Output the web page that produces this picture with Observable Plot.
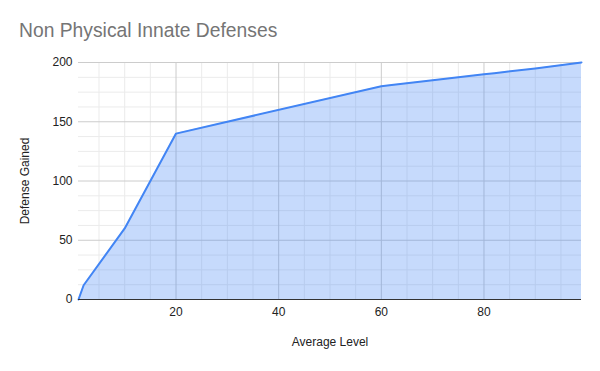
<!DOCTYPE html>
<html>
<head>
<meta charset="utf-8">
<script src="https://cdn.jsdelivr.net/npm/d3@7"></script>
<script src="https://cdn.jsdelivr.net/npm/@observablehq/plot@0.6"></script>
<style>
  html, body { margin: 0; padding: 0; background: #fff; }
  #wrap { position: relative; width: 600px; height: 371px; font-family: "Liberation Sans", Arial, sans-serif; }
  #title { position: absolute; left: 19px; top: 21px; font-size: 19.3px; line-height: 19px; color: #757575; white-space: nowrap; }
  svg { display: block; }
</style>
</head>
<body>
<div id="wrap"><div id="title">Non Physical Innate Defenses</div></div>
<script>
const levels = [1, 2, 10, 20, 60, 62, 70, 80, 82, 84, 90, 99];
const defense = [0, 12, 60, 140, 180, 181, 185, 190, 191, 192, 195, 200];
const xTicks = [20, 40, 60, 80];
const yTicks = [0, 50, 100, 150, 200];
const xMinor = [5, 10, 15, 25, 30, 35, 45, 50, 55, 65, 70, 75, 85, 90, 95];
const yMinor = [12.5, 25, 37.5, 62.5, 75, 87.5, 112.5, 125, 137.5, 162.5, 175, 187.5];
const xLabel = "Average Level";
const yLabel = "Defense Gained";

const data = levels.map((l, i) => ({level: l, value: defense[i]}));

const chart = Plot.plot({
  width: 600,
  height: 371,
  marginTop: 62,
  marginBottom: 72,
  marginLeft: 78,
  marginRight: 19,
  style: {fontFamily: '"Liberation Sans", Arial, sans-serif', fontSize: "12px", color: "#222", background: "#fff", overflow: "visible"},
  x: {domain: [1, 99]},
  y: {domain: [0, 200]},
  marks: [
    Plot.ruleX(xMinor, {stroke: "#ebebeb", strokeWidth: 1}),
    Plot.ruleY(yMinor, {stroke: "#ebebeb", strokeWidth: 1}),
    Plot.ruleX(xTicks, {stroke: "#cccccc", strokeWidth: 1}),
    Plot.ruleY(yTicks.filter(d => d > 0), {stroke: "#cccccc", strokeWidth: 1}),
    Plot.areaY(data, {x: "level", y: "value", fill: "#4285f4", fillOpacity: 0.3}),
    Plot.lineY(data, {x: "level", y: "value", stroke: "#4285f4", strokeWidth: 2}),
    Plot.ruleY([0], {stroke: "#333333", strokeWidth: 1}),
    Plot.axisX({ticks: xTicks, tickSize: 0, tickPadding: 8, label: null, fill: "#222"}),
    Plot.axisY({ticks: yTicks, tickSize: 0, tickPadding: 6, label: null, fill: "#222"}),
    Plot.text([xLabel], {frameAnchor: "bottom", dy: 46, fill: "#222"}),
    Plot.text([yLabel], {frameAnchor: "left", dx: -53, rotate: -90, textAnchor: "middle", fill: "#222"})
  ]
});
document.getElementById("wrap").appendChild(chart);
</script>
</body>
</html>
